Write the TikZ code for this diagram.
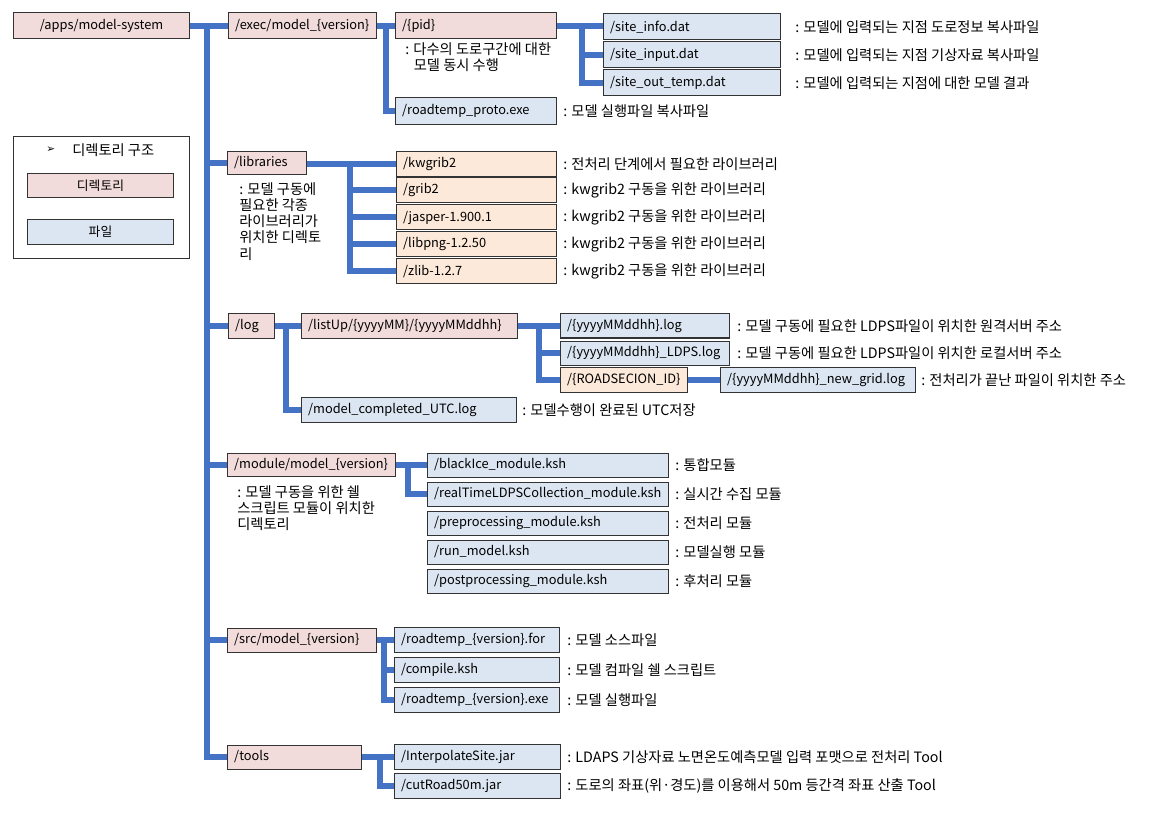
\documentclass[tikz,border=0pt]{standalone}
\usepackage{fontspec}
\setmainfont{Noto Sans CJK KR}
\newfontfamily\symf{DejaVu Sans}
\definecolor{dirc}{RGB}{242,220,219}
\definecolor{filec}{RGB}{220,230,242}
\definecolor{libc}{RGB}{253,233,217}
\definecolor{linec}{RGB}{68,114,196}
\tikzset{
 base/.style={draw=black!80, line width=0.75pt, anchor=west, inner xsep=5pt, inner ysep=0pt, align=left, font=\fontsize{9.6}{12}\selectfont},
 dirbox/.style={base, fill=dirc},
 filebox/.style={base, fill=filec},
 libbox/.style={base, fill=libc},
 note/.style={anchor=west, inner sep=0pt, align=left, font=\fontsize{10.7}{12.2}\selectfont},
 conn/.style={draw=linec, line width=4.5pt},
}
\newcommand\bx[7]{%
 \pgfmathsetmacro\bw{(#4-#3)*0.75}\pgfmathsetmacro\tw{\bw-10}\pgfmathsetmacro\bh{#6*0.75}%
 \node[#2, minimum width=\bw pt, text width=\tw pt, minimum height=\bh pt] (#1) at (#3,#5) {#7};}
\begin{document}
\begin{tikzpicture}[x=0.75pt,y=-0.75pt]
\useasboundingbox (0,0) rectangle (1165,813);
% ---- top level
\bx{apps}{dirbox,align=center}{13}{189}{26}{26}{/apps/model-system}
\bx{exec}{dirbox}{228}{376}{26}{26}{/exec/model\_\{version\}}
\bx{pid}{dirbox}{395}{556}{26}{26}{/\{pid\}}
\bx{sinfo}{filebox}{603}{780}{27}{26}{/site\_info.dat}
\bx{sinput}{filebox}{603}{780}{55}{26}{/site\_input.dat}
\bx{sout}{filebox}{603}{780}{83}{26}{/site\_out\_temp.dat}
\bx{proto}{filebox}{395}{556}{111}{27}{/roadtemp\_proto.exe}
\node[note] (npid) at (405,57) {: 다수의 도로구간에 대한\\\hspace*{0.6em}모델 동시 수행};
\node[note] (nproto) at (563,111) {: 모델 실행파일 복사파일};
\node[note] (nsinfo) at (795,27) {: 모델에 입력되는 지점 도로정보 복사파일};
\node[note] (nsinput) at (795,55) {: 모델에 입력되는 지점 기상자료 복사파일};
\node[note] (nsout) at (795,83) {: 모델에 입력되는 지점에 대한 모델 결과};
% ---- legend
\bx{legend}{base,fill=white}{13}{189}{198}{122}{}
\node[note, font=\symf\fontsize{8}{10}\selectfont] (legarrow) at (46,150) {➢};
\node[note] (legtitle) at (72,150) {디렉토리 구조};
\bx{legdir}{dirbox,align=center}{27}{173}{186}{24}{디렉토리}
\bx{legfile}{filebox,align=center}{27}{173}{232}{25}{파일}
% ---- libraries
\bx{libs}{dirbox}{227}{306}{163}{23}{/libraries}
\node[note, anchor=north west] (nlibs) at (239,182) {: 모델 구동에\\필요한 각종\\라이브러리가\\위치한 디렉토\\리};
\bx{kwgrib}{libbox}{396}{556}{164}{25}{/kwgrib2}
\bx{grib}{libbox}{396}{556}{190.5}{25}{/grib2}
\bx{jasper}{libbox}{396}{556}{217.5}{25}{/jasper-1.900.1}
\bx{libpng}{libbox}{396}{556}{244.5}{25}{/libpng-1.2.50}
\bx{zlib}{libbox}{396}{556}{271.5}{25}{/zlib-1.2.7}
\node[note] (nkwgrib) at (563,164) {: 전처리 단계에서 필요한 라이브러리};
\node[note] (ngrib) at (563,190.5) {: kwgrib2 구동을 위한 라이브러리};
\node[note] (njasper) at (563,217.5) {: kwgrib2 구동을 위한 라이브러리};
\node[note] (nlibpng) at (563,244.5) {: kwgrib2 구동을 위한 라이브러리};
\node[note] (nzlib) at (563,271.5) {: kwgrib2 구동을 위한 라이브러리};
% ---- log
\bx{log}{dirbox}{228}{274}{326}{25}{/log}
\bx{listup}{dirbox}{301}{517}{326}{25}{/listUp/\{yyyyMM\}/\{yyyyMMddhh\}}
\bx{ylog}{filebox}{560}{729}{326}{24}{/\{yyyyMMddhh\}.log}
\bx{ldps}{filebox}{560}{729}{353}{24}{/\{yyyyMMddhh\}\_LDPS.log}
\bx{roadsec}{libbox}{560}{687}{380}{25}{/\{ROADSECION\_ID\}}
\bx{newgrid}{filebox}{720}{915}{380}{25}{/\{yyyyMMddhh\}\_new\_grid.log}
\bx{mcomp}{filebox}{301}{516}{410}{25}{/model\_completed\_UTC.log}
\node[note] (nylog) at (737,326) {: 모델 구동에 필요한 LDPS파일이 위치한 원격서버 주소};
\node[note] (nldps) at (737,353) {: 모델 구동에 필요한 LDPS파일이 위치한 로컬서버 주소};
\node[note] (nnewgrid) at (921,380) {: 전처리가 끝난 파일이 위치한 주소};
\node[note] (nmcomp) at (522,410) {: 모델수행이 완료된 UTC저장};
% ---- module
\bx{module}{dirbox}{227}{395}{465}{23}{/module/model\_\{version\}}
\node[note, anchor=north west] (nmodule) at (237,485) {: 모델 구동을 위한 쉘\\스크립트 모듈이 위치한\\디렉토리};
\bx{blackice}{filebox}{427}{668}{465}{24}{/blackIce\_module.ksh}
\bx{realtime}{filebox}{427}{668}{494}{24}{/realTimeLDPSCollection\_module.ksh}
\bx{prep}{filebox}{427}{668}{523}{24}{/preprocessing\_module.ksh}
\bx{runm}{filebox}{427}{668}{552}{24}{/run\_model.ksh}
\bx{postp}{filebox}{427}{668}{581}{24}{/postprocessing\_module.ksh}
\node[note] (nblackice) at (675,465) {: 통합모듈};
\node[note] (nrealtime) at (675,494) {: 실시간 수집 모듈};
\node[note] (nprep) at (675,523) {: 전처리 모듈};
\node[note] (nrunm) at (675,552) {: 모델실행 모듈};
\node[note] (npostp) at (675,581) {: 후처리 모듈};
% ---- src
\bx{src}{dirbox}{227}{376}{640}{24}{/src/model\_\{version\}}
\bx{rtfor}{filebox}{394}{559}{640}{25}{/roadtemp\_\{version\}.for}
\bx{compile}{filebox}{394}{559}{670}{25}{/compile.ksh}
\bx{rtexe}{filebox}{394}{559}{700}{25}{/roadtemp\_\{version\}.exe}
\node[note] (nrtfor) at (567,640) {: 모델 소스파일};
\node[note] (ncompile) at (567,670) {: 모델 컴파일 쉘 스크립트};
\node[note] (nrtexe) at (567,700) {: 모델 실행파일};
% ---- tools
\bx{tools}{dirbox}{227}{361}{757}{24}{/tools}
\bx{interp}{filebox}{394}{560}{757}{25}{/InterpolateSite.jar}
\bx{cutroad}{filebox}{394}{560}{786}{25}{/cutRoad50m.jar}
\node[note] (ninterp) at (567,757) {: LDAPS 기상자료 노면온도예측모델 입력 포맷으로 전처리 Tool};
\node[note] (ncutroad) at (567,786) {: 도로의 좌표(위·경도)를 이용해서 50m 등간격 좌표 산출 Tool};
% ---- connectors
\coordinate (tmain) at (207,26);
\coordinate (texec) at (386,26);
\coordinate (tpid) at (582,27);
\coordinate (tlibs) at (350,164);
\coordinate (tlog) at (286,326);
\coordinate (tlist) at (539,326);
\coordinate (tmod) at (408,465);
\coordinate (tsrc) at (384,640);
\coordinate (ttools) at (380,757);
\draw[conn] (apps.east) -- (exec.west);
\draw[conn] (tmain) |- (libs.west);
\draw[conn] (tmain) |- (log.west);
\draw[conn] (tmain) |- (module.west);
\draw[conn] (tmain) |- (src.west);
\draw[conn] (tmain) |- (tools.west);
\draw[conn] (exec.east) -- (pid.west);
\draw[conn] (texec) |- (proto.west);
\draw[conn] (pid.east) -- (sinfo.west |- pid.east);
\draw[conn] (tpid) |- (sinput.west);
\draw[conn] (tpid) |- (sout.west);
\draw[conn] (libs.east |- kwgrib.west) -- (kwgrib.west);
\draw[conn] (tlibs) |- (grib.west);
\draw[conn] (tlibs) |- (jasper.west);
\draw[conn] (tlibs) |- (libpng.west);
\draw[conn] (tlibs) |- (zlib.west);
\draw[conn] (log.east) -- (listup.west);
\draw[conn] (tlog) |- (mcomp.west);
\draw[conn] (listup.east) -- (ylog.west);
\draw[conn] (tlist) |- (ldps.west);
\draw[conn] (tlist) |- (roadsec.west);
\draw[conn] (roadsec.east) -- (newgrid.west);
\draw[conn] (module.east) -- (blackice.west);
\draw[conn] (tmod) |- (realtime.west);
\draw[conn] (src.east) -- (rtfor.west);
\draw[conn] (tsrc) |- (compile.west);
\draw[conn] (tsrc) |- (rtexe.west);
\draw[conn] (tools.east) -- (interp.west);
\draw[conn] (ttools) |- (cutroad.west);
\end{tikzpicture}
\end{document}
